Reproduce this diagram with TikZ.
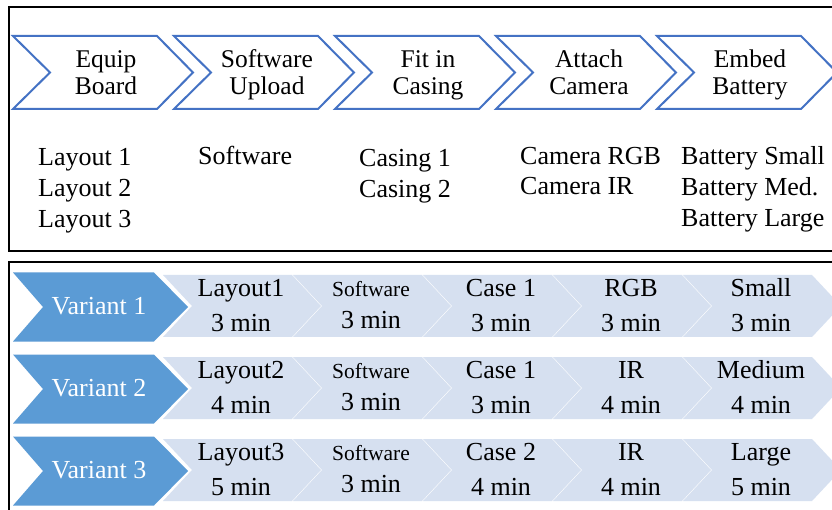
\documentclass[tikz,border=0pt]{standalone}
\usepackage{fontspec}
\setmainfont{Liberation Serif}
\definecolor{flowblue}{HTML}{4472C4}
\definecolor{variantblue}{HTML}{5B9BD5}
\definecolor{steplight}{HTML}{D6E0F0}

\begin{document}
\begin{tikzpicture}[x=1pt,y=-1pt,
  frame/.style={draw=black, line width=2.5pt},
  stageshape/.style={draw=flowblue, line width=2pt, line join=miter},
  stagetext/.style={font=\fontsize{25.5}{27}\selectfont, anchor=base, inner sep=0pt},
  listtext/.style={font=\fontsize{26}{30}\selectfont, anchor=base west, inner sep=0pt},
  variantshape/.style={fill=variantblue},
  variantlabel/.style={font=\fontsize{26}{27}\selectfont, text=white, anchor=base, inner sep=0pt},
  taskshape/.style={fill=steplight},
  tasktext/.style={font=\fontsize{26}{27}\selectfont, anchor=base, inner sep=0pt},
  tasksmall/.style={font=\fontsize{21.5}{22}\selectfont, anchor=base, inner sep=0pt},
  cellA0/.style={tasktext}, cellA1/.style={tasksmall}, cellA2/.style={tasktext},
  cellA3/.style={tasktext}, cellA4/.style={tasktext},
  cellB0/.style={tasktext}, cellB1/.style={tasktext, yshift=3pt}, cellB2/.style={tasktext},
  cellB3/.style={tasktext}, cellB4/.style={tasktext},
]
\useasboundingbox (0,0) rectangle (832,510);
\clip (0,0) rectangle (832,510);
\fill[white] (0,0) rectangle (832,510);

% process stages (outlined chevrons)
\foreach \i/\a/\b in {0/Equip/Board, 1/Software/Upload, 2/Fit in/Casing,
                      3/Attach/Camera, 4/Embed/Battery} {
  \pgfmathsetmacro\xL{13+161*\i}
  \draw[stageshape] (\xL,36) -- (\xL+144,36) -- (\xL+180,72.5) -- (\xL+144,109)
        -- (\xL,109) -- (\xL+37,72.5) -- cycle;
  \node[stagetext] (s\i-top) at (\xL+93,68) {\a};
  \node[stagetext] (s\i-bot) at (\xL+93,95) {\b};
}

% options available per stage
\node[listtext] (opt0-1) at (38,166) {Layout 1};
\node[listtext] (opt0-2) at (38,197) {Layout 2};
\node[listtext] (opt0-3) at (38,228) {Layout 3};
\node[listtext] (opt1-1) at (198,165) {Software};
\node[listtext] (opt2-1) at (359,167) {Casing 1};
\node[listtext] (opt2-2) at (359,198) {Casing 2};
\node[listtext] (opt3-1) at (520,165) {Camera RGB};
\node[listtext] (opt3-2) at (520,195) {Camera IR};
\node[listtext] (opt4-1) at (681,165) {Battery Small};
\node[listtext] (opt4-2) at (681,196) {Battery Med.};
\node[listtext] (opt4-3) at (681,227) {Battery Large};

% variant heads
\foreach \r/\v in {0/1, 1/2, 2/3} {
  \pgfmathsetmacro\yc{307+82*\r}
  \fill[variantshape] (13,\yc-34.5) -- (154,\yc-34.5) -- (188,\yc) -- (154,\yc+34.5)
        -- (13,\yc+34.5) -- (43,\yc) -- cycle;
  \node[variantlabel] (v\r) at (99,\yc+7.5) {Variant \v};
}

% task cells of every variant
\foreach \r/\j/\top/\bot in {
  0/0/Layout1/3 min, 0/1/Software/3 min, 0/2/Case 1/3 min, 0/3/RGB/3 min, 0/4/Small/3 min,
  1/0/Layout2/4 min, 1/1/Software/3 min, 1/2/Case 1/3 min, 1/3/IR/4 min, 1/4/Medium/4 min,
  2/0/Layout3/5 min, 2/1/Software/3 min, 2/2/Case 2/4 min, 2/3/IR/4 min, 2/4/Large/5 min} {
  \pgfmathsetmacro\yc{306+82*\r}
  \pgfmathsetmacro\xL{163+130*\j}
  \fill[taskshape] (\xL,\yc-31) -- (\xL+129,\yc-31) -- (\xL+158,\yc) -- (\xL+129,\yc+31)
        -- (\xL,\yc+31) -- (\xL+29,\yc) -- cycle;
  \node[cellA\j] (c\r\j-a) at (\xL+78,\yc-9.5) {\top};
  \node[cellB\j] (c\r\j-b) at (\xL+78,\yc+25.5) {\bot};
}

% frames
\draw[frame] (9,7) rectangle (870,251);
\draw[frame] (9,262) rectangle (870,540);
\end{tikzpicture}
\end{document}
